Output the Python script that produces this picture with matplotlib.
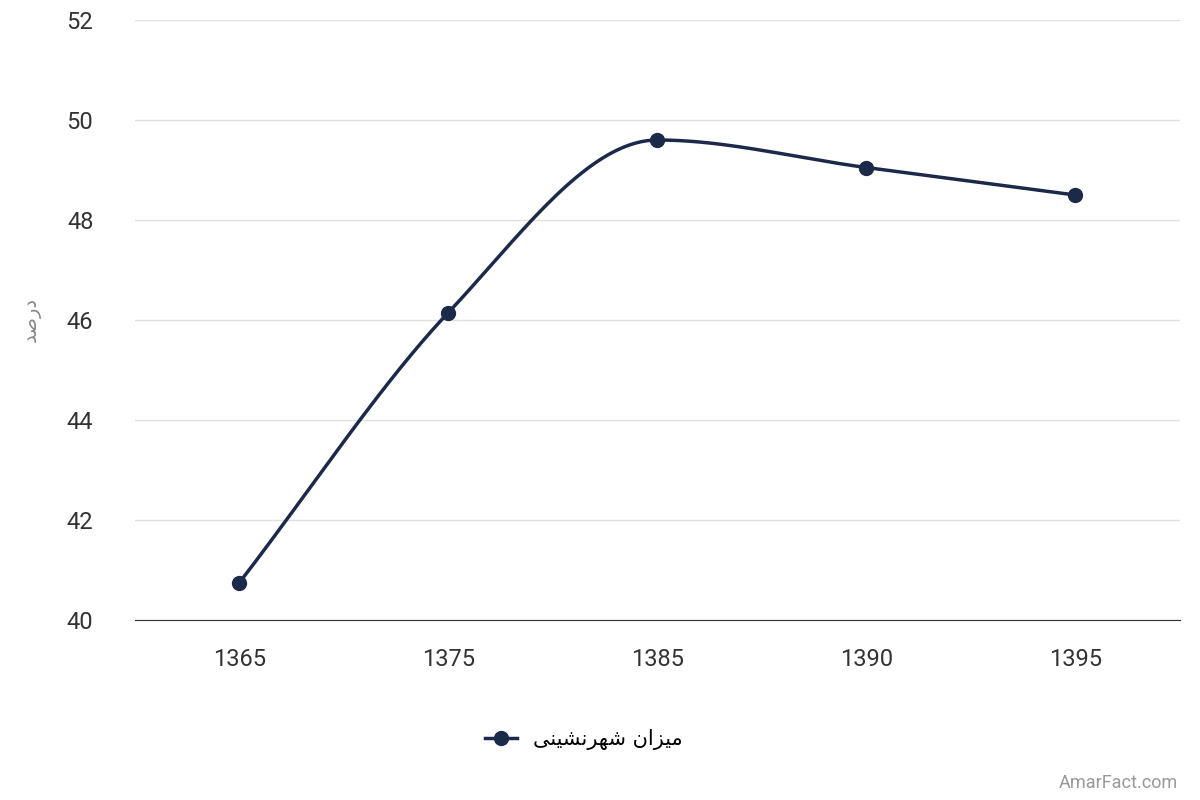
import numpy as np
import matplotlib.pyplot as plt

years = ['1365', '1375', '1385', '1390', '1395']
urban = [40.75, 46.15, 49.6, 49.05, 48.5]

# Persian labels written as presentation forms in visual order (no shaping in matplotlib)
legend_label = '\uFEE3\uFEF4\uFEB0\uFE8D\uFEE5 \uFEB7\uFEEC\uFEAE\uFEE7\uFEB8\uFEF4\uFEE8\uFEF0'[::-1]
ylabel = '\uFEA9\uFEAD\uFEBB\uFEAA'[::-1]

col = '#1c2a4a'

def spline(x, y, n=40):
    # smooth curve through points, flat at local extrema (like Highcharts)
    x = np.asarray(x, float); y = np.asarray(y, float)
    m = np.zeros(len(x))
    for i in range(1, len(x) - 1):
        d0 = y[i] - y[i - 1]; d1 = y[i + 1] - y[i]
        if d0 * d1 > 0:
            m[i] = (y[i + 1] - y[i - 1]) / (x[i + 1] - x[i - 1])
    m[0] = (y[1] - y[0]) / (x[1] - x[0])
    m[-1] = (y[-1] - y[-2]) / (x[-1] - x[-2])
    xs, ys = [], []
    for i in range(len(x) - 1):
        h = x[i + 1] - x[i]
        t = np.linspace(0, 1, n)
        h00 = 2 * t**3 - 3 * t**2 + 1; h10 = t**3 - 2 * t**2 + t
        h01 = -2 * t**3 + 3 * t**2; h11 = t**3 - t**2
        xs.extend(x[i] + t * h)
        ys.extend(h00 * y[i] + h10 * h * m[i] + h01 * y[i + 1] + h11 * h * m[i + 1])
    return xs, ys

pos = np.arange(len(years))
fig = plt.figure(figsize=(12, 8), dpi=100)
ax = fig.add_axes([0.1125, 0.225, 0.8705, 0.75])
sx, sy = spline(pos, urban)
ax.plot(sx, sy, color=col, lw=2.5, zorder=3)
ax.plot(pos, urban, 'o', color=col, ms=10, zorder=4)

ax.set_xlim(-0.5, len(years) - 0.5)
ax.set_ylim(40, 52)
ax.set_yticks(range(40, 53, 2))
ax.set_xticks(pos, years)
ax.grid(axis='y', color='#e0e0e0', lw=1)
ax.set_axisbelow(True)
for s in ['top', 'right', 'left']:
    ax.spines[s].set_visible(False)
ax.spines['bottom'].set_color('#333333')
ax.tick_params(length=0, labelsize=17, colors='#333333', pad=20)
ax.tick_params(axis='y', pad=30)
for lbl in ax.get_xticklabels() + ax.get_yticklabels():
    lbl.set_family('Roboto')
ax.set_ylabel(ylabel, fontsize=14, color='#888888')
ax.yaxis.set_label_coords(-0.09, 0.5)

ax.legend([ax.lines[0]], [legend_label], loc='center', bbox_to_anchor=(0.43, -0.2),
          frameon=False, fontsize=15, handlelength=1.5)
leg = ax.get_legend()
leg.legend_handles[0].set_marker('o')
leg.legend_handles[0].set_markersize(10)
fig.text(0.982, 0.01, 'AmarFact.com', ha='right', va='bottom', fontsize=13, color='#999999', family='Roboto')
fig.savefig('out.png')
